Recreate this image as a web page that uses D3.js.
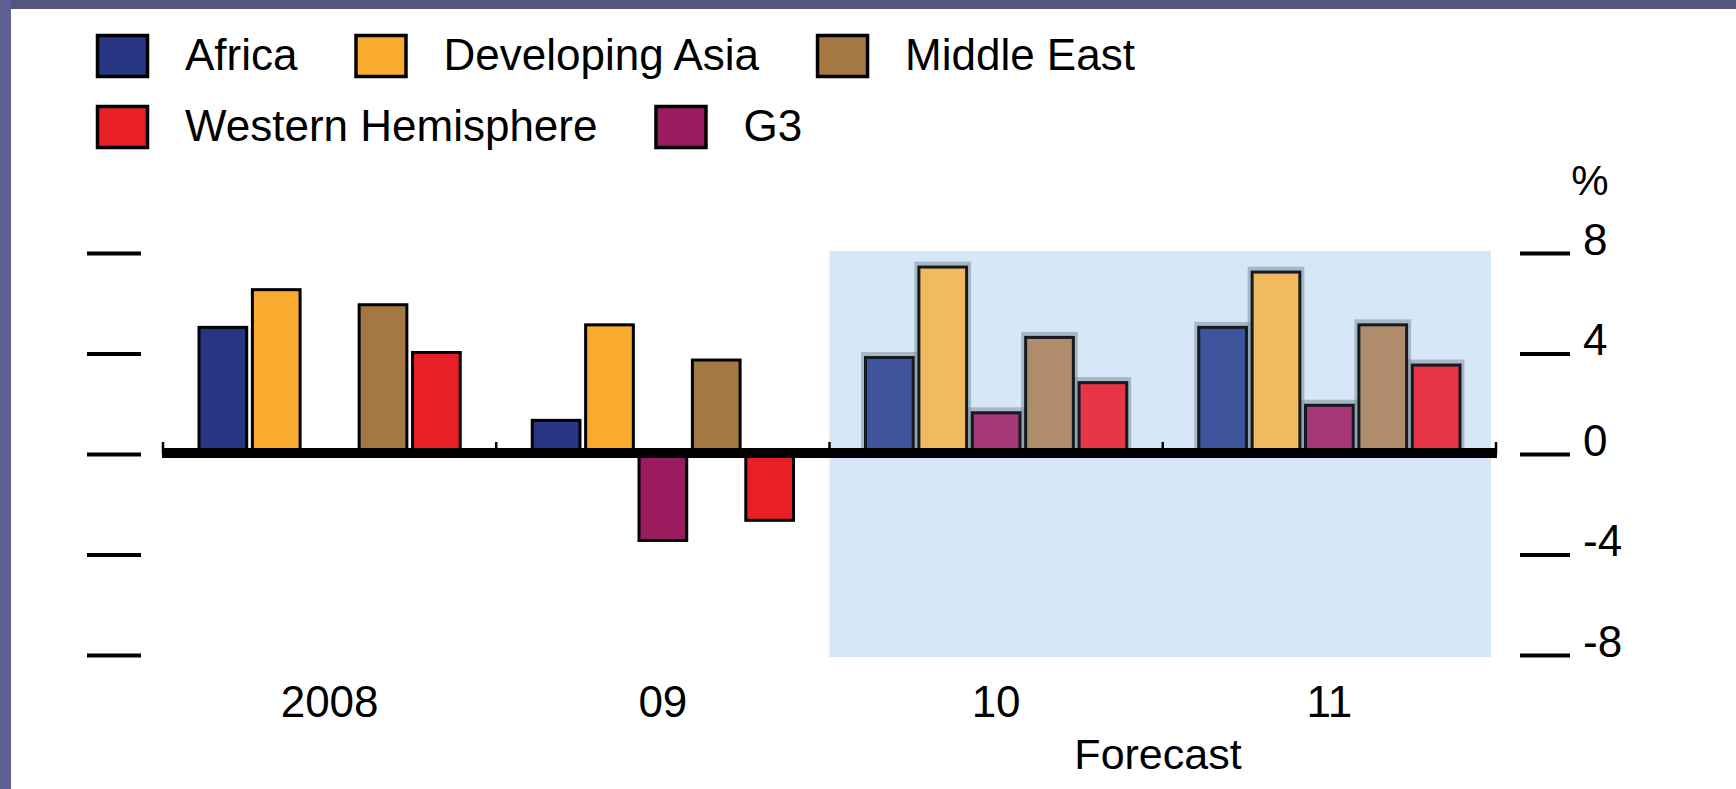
<!DOCTYPE html>
<meta charset="utf-8">
<script src="https://d3js.org/d3.v7.min.js"></script>
<style>
  body { margin: 0; background: #fff; }
  text { font-family: "Liberation Sans", Arial, sans-serif; fill: #000; }
</style>

<div id="my_dataviz"></div>

<script>
  // data
  var years = ["2008", "09", "10", "11"];
  var forecastYears = ["10", "11"];
  var series = ["Africa", "Developing Asia", "G3", "Middle East", "Western Hemisphere"];
  var legendOrder = ["Africa", "Developing Asia", "Middle East", "Western Hemisphere", "G3"];
  var africa = [5.1, 1.4, 3.9, 5.1];
  var developingAsia = [6.6, 5.2, 7.5, 7.3];
  var g3 = [null, -3.5, 1.7, 2.0];
  var middleEast = [6.0, 3.8, 4.7, 5.2];
  var westernHemisphere = [4.1, -2.7, 2.9, 3.6];
  var yTicks = [8, 4, 0, -4, -8];

  var values = [africa, developingAsia, g3, middleEast, westernHemisphere];
  var colors = ["#283583", "#f9ab30", "#9b1c5e", "#a57843", "#e81f25"];
  var forecastColors = ["#3f549c", "#f2ba5e", "#a53778", "#af8d6c", "#e63546"];

  var width = 1736, height = 789;

  var svg = d3.select("#my_dataviz")
    .append("svg")
    .attr("width", width)
    .attr("height", height);

  // frame strips top and left
  svg.append("rect").attr("x", 0).attr("y", 0).attr("width", width).attr("height", 9).attr("fill", "#55567f");
  svg.append("rect").attr("x", 0).attr("y", 0).attr("width", 11).attr("height", height).attr("fill", "#5e5f93");

  var x = d3.scaleBand().domain(years).range([163, 1496]);
  var xs = d3.scaleBand().domain(series)
    .range([34.5, x.bandwidth() - 34.5])
    .paddingInner(0.05);
  var y = d3.scaleLinear().domain([-8, 8]).range([655, 253]);

  // forecast shading
  svg.append("rect")
    .attr("x", x(forecastYears[0]))
    .attr("y", y(8) - 2)
    .attr("width", x(forecastYears[1]) + x.bandwidth() - 5 - x(forecastYears[0]))
    .attr("height", y(-8) - y(8) + 4)
    .attr("fill", "#d6e8f7");

  // left ticks (no labels)
  var left = svg.append("g")
    .attr("transform", "translate(141,0)")
    .call(d3.axisLeft(y).tickValues(yTicks).tickSize(54).tickFormat(""));
  left.select(".domain").remove();
  left.selectAll("line").attr("stroke", "#000").attr("stroke-width", 4);

  // right axis, plain hyphen for negatives
  var right = svg.append("g")
    .attr("transform", "translate(1520,0)")
    .call(d3.axisRight(y).tickValues(yTicks).tickSize(50).tickPadding(13)
      .tickFormat(function (d) { return String(d); }));
  right.select(".domain").remove();
  right.selectAll("line").attr("stroke", "#000").attr("stroke-width", 4);
  right.selectAll("text")
    .attr("dy", 0)
    .attr("y", 1)
    .style("font-size", "44px")
    .style("font-family", "\"Liberation Sans\", Arial, sans-serif")
    .attr("fill", "#000");

  svg.append("text")
    .attr("x", 1590).attr("y", 195)
    .attr("text-anchor", "middle")
    .style("font-size", "42px")
    .text("%");

  // bars
  var groups = svg.selectAll(".year")
    .data(years)
    .enter()
    .append("g")
    .attr("transform", function (d) { return "translate(" + x(d) + ",0)"; });

  groups.each(function (yr, i) {
    var isF = forecastYears.indexOf(yr) >= 0;
    var rows = series.map(function (s, k) { return { s: s, k: k, v: values[k][i] }; })
      .filter(function (d) { return d.v != null; });
    var g = d3.select(this);
    if (isF) {
      g.selectAll(".halo").data(rows).enter().append("rect")
        .attr("x", function (d) { return xs(d.s) - 3; })
        .attr("y", function (d) { return y(Math.max(0, d.v)) - 4; })
        .attr("width", xs.bandwidth() + 6)
        .attr("height", function (d) { return Math.abs(y(d.v) - y(0)) + 4; })
        .attr("fill", "#7f8f9c")
        .attr("opacity", 0.55);
    }
    g.selectAll(".bar").data(rows).enter().append("rect")
      .attr("x", function (d) { return xs(d.s) + 1.5; })
      .attr("y", function (d) { return y(Math.max(0, d.v)) + 1.5; })
      .attr("width", xs.bandwidth() - 3)
      .attr("height", function (d) { return Math.max(0, Math.abs(y(d.v) - y(0)) - 3); })
      .attr("fill", function (d) { return isF ? forecastColors[d.k] : colors[d.k]; })
      .attr("stroke", isF ? "#141a1f" : "#000")
      .attr("stroke-width", 3);
  });

  // zero line and small category ticks
  svg.append("line")
    .attr("x1", 162).attr("x2", 1497)
    .attr("y1", y(0) - 1).attr("y2", y(0) - 1)
    .attr("stroke", "#000").attr("stroke-width", 10);
  svg.selectAll(".ctick")
    .data(years.concat(["end"]))
    .enter()
    .append("line")
    .attr("x1", function (d, i) { return 163 + i * x.step(); })
    .attr("x2", function (d, i) { return 163 + i * x.step(); })
    .attr("y1", y(0) - 12).attr("y2", y(0))
    .attr("stroke", "#000").attr("stroke-width", 2.5);

  // year labels
  svg.selectAll(".ylab")
    .data(years)
    .enter()
    .append("text")
    .attr("x", function (d) { return x(d) + x.bandwidth() / 2; })
    .attr("y", 717)
    .attr("text-anchor", "middle")
    .style("font-size", "44px")
    .text(function (d) { return d; });

  svg.append("text")
    .attr("x", 1158).attr("y", 769)
    .attr("text-anchor", "middle")
    .style("font-size", "43px")
    .text("Forecast");

  // legend, two rows, laid out by text width
  var legendRows = [legendOrder.slice(0, 3), legendOrder.slice(3)];
  legendRows.forEach(function (row, r) {
    var cx = 96;
    var top = r === 0 ? 34 : 105;
    row.forEach(function (name) {
      var k = series.indexOf(name);
      svg.append("rect")
        .attr("x", cx + 1.5).attr("y", top + 1.5)
        .attr("width", 50).attr("height", 41)
        .attr("fill", colors[k])
        .attr("stroke", "#000").attr("stroke-width", 3.5);
      var t = svg.append("text")
        .attr("x", cx + 89).attr("y", top + 36)
        .style("font-size", "44px")
        .text(name);
      cx = cx + 89 + t.node().getComputedTextLength() + 57;
    });
  });
</script>
